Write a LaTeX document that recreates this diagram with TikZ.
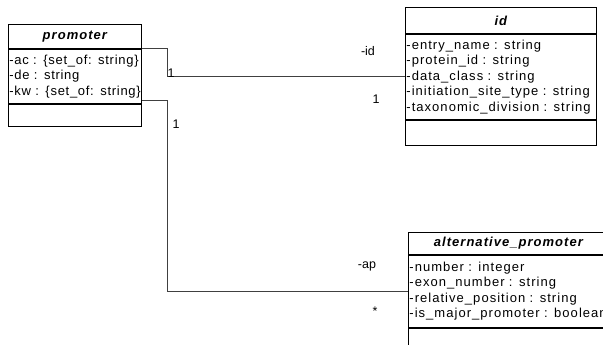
\documentclass[tikz,border=0pt]{standalone}
\usepackage{fontspec}
\setmainfont{Liberation Sans}
\newfontfamily\umlfont{Liberation Sans}[LetterSpace=8]
\newfontfamily\umlnarrowfont{Liberation Sans}[LetterSpace=5.5]
\usetikzlibrary{positioning}
\tikzset{
  classhead/.style={draw, line width=0.8pt, inner sep=0pt, anchor=north west,
    font=\umlfont\fontsize{13}{14}\selectfont\bfseries\itshape},
  classattr/.style={draw, line width=0.8pt, align=left, inner xsep=1pt, inner ysep=0pt,
    font=\umlfont\fontsize{13}{15.5}\selectfont},
  classops/.style={draw, line width=0.8pt, inner sep=0pt},
  assoc/.style={draw=black!75, line width=0.8pt},
  lbl/.style={inner sep=0pt, font=\fontsize{12.5}{14}\selectfont}
}
\begin{document}
\begin{tikzpicture}[x=1pt,y=-1pt]
            \useasboundingbox (0,0) rectangle (603,345);
            \clip (0,0) rectangle (603,345);

            % promoter
            \node[classhead, minimum width=133pt, minimum height=24pt] (promoterhead) at (8,24) {promoter};
            \node[classattr, text width=131pt, minimum height=54pt, below=0pt of promoterhead,
                font=\umlnarrowfont\fontsize{13}{15.5}\selectfont] (promoterattr)
                {\mbox{-ac : \{set\_of: string\}}\\-de : string\\\mbox{-kw : \{set\_of: string\}}};
            \node[classops, minimum width=133pt, minimum height=22pt, below=0pt of promoterattr] (promoterops) {};

            % id
            \node[classhead, minimum width=191pt, minimum height=26pt] (idhead) at (405,7) {id};
            \node[classattr, text width=189pt, minimum height=85pt, below=0pt of idhead] (idattr)
                {-entry\_name : string\\-protein\_id : string\\-data\_class : string\\-initiation\_site\_type : string\\-taxonomic\_division : string};
            \node[classops, minimum width=191pt, minimum height=25pt, below=0pt of idattr] (idops) {};

            % alternative_promoter
            \node[classhead, minimum width=200pt, minimum height=22pt] (althead) at (408,232) {alternative\_promoter};
            \node[classattr, text width=198pt, minimum height=72pt, below=0pt of althead] (altattr)
                {-number : integer\\-exon\_number : string\\-relative\_position : string\\\mbox{-is\_major\_promoter : boolean}};
            \node[classops, minimum width=200pt, minimum height=40pt, below=0pt of altattr] (altops) {};

            \draw[assoc] (promoterhead.south east) -- ++(26,0) |- (idattr.west);
            \draw[assoc] ([yshift=3pt]promoterattr.south east) -- ++(26,0) |- (altattr.west);

            \node[lbl] (idrole) at (368,51) {-id};
            \node[lbl] (idmultsrc) at (171,73) {1};
            \node[lbl] (idmulttgt) at (376,99) {1};
            \node[lbl] (aprole) at (367,266) {-ap};
            \node[lbl] (apmultsrc) at (176,124) {1};
            \node[lbl] (apmulttgt) at (375,311) {*};
        \end{tikzpicture}
\end{document}
